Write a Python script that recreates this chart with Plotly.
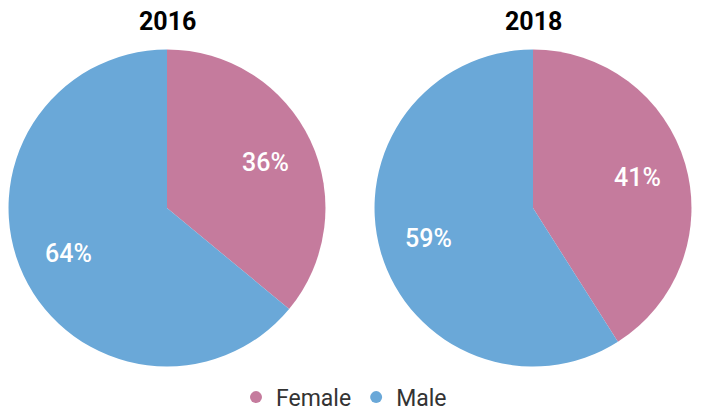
import math
import plotly.graph_objects as go

years = ["2016", "2018"]
genders = ["Female", "Male"]
values_2016 = [36, 64]
values_2018 = [41, 59]
colors = ["#C57B9D", "#6AA8D8"]

W, H = 704, 419
centers_px = [(167, 210), (533, 210)]
R = 158
R_DOM = 160

fig = go.Figure()

for vals, (cx, cy), yr in zip([values_2016, values_2018], centers_px, years):
    dom = dict(x=[(cx - R_DOM) / W, (cx + R_DOM) / W],
               y=[(H - cy - R_DOM) / H, (H - cy + R_DOM) / H])
    fig.add_trace(go.Pie(
        labels=genders, values=vals, sort=False, direction="clockwise", rotation=0,
        marker=dict(colors=colors, line=dict(width=0)),
        textinfo="none", domain=dom, showlegend=False,
        hoverinfo="label+percent", name=yr,
    ))
    fig.add_annotation(text="<b>" + yr + "</b>", x=cx / W, y=1 - 21.5 / H,
                       xref="paper", yref="paper", showarrow=False,
                       font=dict(family="Roboto", size=25, color="#000"),
                       xanchor="center", yanchor="middle")
    # percentage labels along each slice's mid-angle
    total = sum(vals)
    start = 0.0
    for v in vals:
        mid = (start + v / 2) / total * 2 * math.pi
        start += v
        lx = cx + 0.69 * R * math.sin(mid)
        ly = cy - 0.69 * R * math.cos(mid)
        fig.add_annotation(text=f"{round(100 * v / total)}%", x=lx / W, y=1 - ly / H,
                           xref="paper", yref="paper", showarrow=False,
                           font=dict(family="Roboto", size=25, color="white", weight=500),
                           xanchor="center", yanchor="middle")

for g, c in zip(genders, colors):
    fig.add_trace(go.Scatter(x=[None], y=[None], mode="markers", name=g,
                             marker=dict(symbol="circle", size=12, color=c)))

fig.update_layout(
    width=W, height=H, margin=dict(l=0, r=0, t=0, b=0),
    paper_bgcolor="white", plot_bgcolor="white",
    xaxis=dict(visible=False), yaxis=dict(visible=False),
    legend=dict(orientation="h", x=0.5 - 8 / W, xanchor="center", y=18 / H, yanchor="middle",
                font=dict(family="Roboto", size=23, color="#333"), itemsizing="constant"),
)
fig.write_html("out.html", config={"displayModeBar": False},
               post_script="document.body.style.margin='0';")
